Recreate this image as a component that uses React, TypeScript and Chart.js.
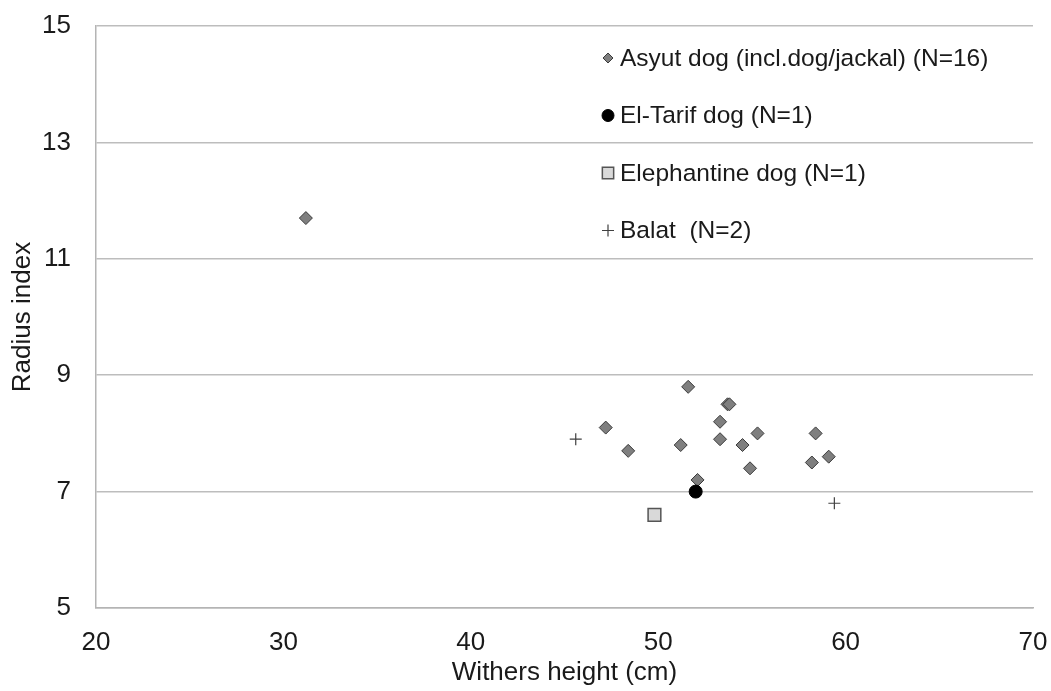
import React, { useEffect, useRef } from "react";
import { Chart, registerables } from "chart.js";
import { drawPoint } from "chart.js/helpers";

Chart.register(...registerables);

const asyutX = [31.2, 47.2, 48.4, 51.6, 51.2, 52.1, 53.3, 53.3, 53.7, 53.8, 54.5, 54.9, 55.3, 58.4, 58.2, 59.1];
const asyutY = [11.7, 8.1, 7.7, 8.8, 7.8, 7.2, 8.2, 7.9, 8.5, 8.5, 7.8, 7.4, 8.0, 8.0, 7.5, 7.6];
const elTarifX = [52.0];
const elTarifY = [7.0];
const elephantineX = [49.8];
const elephantineY = [6.6];
const balatX = [45.6, 59.4];
const balatY = [7.9, 6.8];

const seriesLabels = [
  "Asyut dog (incl.dog/jackal) (N=16)",
  "El-Tarif dog (N=1)",
  "Elephantine dog (N=1)",
  "Balat  (N=2)",
];

const xTitle = "Withers height (cm)";
const yTitle = "Radius index";

const FONT = "'Liberation Sans', Arial, sans-serif";

const toPoints = (xs: number[], ys: number[]) => xs.map((x, i) => ({ x, y: ys[i] }));

const legendPlugin = {
  id: "insideLegend",
  afterDraw(chart: any) {
    const { ctx, chartArea } = chart;
    const x0 = chartArea.left + 512;
    const y0 = chartArea.top + 32;
    const rowH = 57.5;
    ctx.save();
    ctx.font = `24.5px ${FONT}`;
    ctx.textBaseline = "middle";
    ctx.textAlign = "left";
    ctx.fillStyle = "#1a1a1a";
    chart.data.datasets.forEach((ds: any, i: number) => {
      const y = y0 + i * rowH;
      const lr = ds.legendRadius ?? ds.pointRadius;
      ctx.save();
      ctx.fillStyle = ds.backgroundColor;
      ctx.strokeStyle = ds.borderColor;
      ctx.lineWidth = ds.borderWidth;
      drawPoint(ctx, { pointStyle: ds.pointStyle, rotation: 0, borderWidth: ds.borderWidth, radius: lr }, x0, y);
      ctx.restore();
      ctx.fillText(ds.label, x0 + 12, y + 1);
    });
    ctx.restore();
  },
};

export default function App() {
  const ref = useRef<HTMLCanvasElement | null>(null);
  useEffect(() => {
    if (!ref.current) return;
    const chart = new Chart(ref.current, {
      type: "scatter",
      data: {
        datasets: [
          {
            label: seriesLabels[0],
            data: toPoints(asyutX, asyutY),
            pointStyle: "rectRot",
            pointRadius: 6.5,
            legendRadius: 5,
            backgroundColor: "#7f7f7f",
            borderColor: "#3a3a3a",
            borderWidth: 1,
            order: 1,
          } as any,
          {
            label: seriesLabels[1],
            data: toPoints(elTarifX, elTarifY),
            pointStyle: "circle",
            pointRadius: 6.5,
            legendRadius: 6,
            backgroundColor: "#000000",
            borderColor: "#000000",
            borderWidth: 1,
            order: 0,
          } as any,
          {
            label: seriesLabels[2],
            data: toPoints(elephantineX, elephantineY),
            pointStyle: "rect",
            pointRadius: 9,
            legendRadius: 8,
            backgroundColor: "#d9d9d9",
            borderColor: "#555555",
            borderWidth: 1.5,
            order: 0,
          } as any,
          {
            label: seriesLabels[3],
            data: toPoints(balatX, balatY),
            pointStyle: "cross",
            pointRadius: 6,
            legendRadius: 6,
            backgroundColor: "#404040",
            borderColor: "#404040",
            borderWidth: 1.2,
            order: 0,
          } as any,
        ],
      },
      options: {
        animation: false,
        responsive: true,
        maintainAspectRatio: false,
        layout: { padding: { left: 0, right: 18, top: 26, bottom: 0 } },
        plugins: {
          legend: { display: false },
          tooltip: { enabled: false },
        },
        scales: {
          x: {
            type: "linear",
            min: 20,
            max: 70,
            ticks: {
              stepSize: 10,
              padding: 19,
              color: "#1a1a1a",
              font: { family: FONT, size: 26 },
            },
            grid: { display: false, drawTicks: false },
            border: { display: true, color: "#b4b4b4", width: 1.5 },
            title: {
              display: true,
              text: xTitle,
              color: "#1a1a1a",
              font: { family: FONT, size: 26, lineHeight: 1.2 },
              padding: { top: 0, bottom: 3 },
            },
            afterFit: (scale: any) => {
              scale.height = 83;
              scale.paddingLeft = 0;
              scale.paddingRight = 0;
            },
          },
          y: {
            type: "linear",
            min: 5,
            max: 15,
            ticks: {
              stepSize: 2,
              padding: 25,
              color: "#1a1a1a",
              font: { family: FONT, size: 26 },
            },
            grid: { display: true, drawTicks: false, color: "#bdbdbd", lineWidth: 1.5 },
            border: { display: true, color: "#b4b4b4", width: 1.5 },
            title: {
              display: true,
              text: yTitle,
              color: "#1a1a1a",
              font: { family: FONT, size: 26, lineHeight: 1.2 },
              padding: { top: 7, bottom: 0 },
            },
            afterFit: (scale: any) => {
              scale.width = 96;
              scale.paddingTop = 0;
              scale.paddingBottom = 0;
            },
          },
        },
      },
      plugins: [legendPlugin],
    });
    return () => chart.destroy();
  }, []);
  return (
    <div style={{ position: "fixed", left: 0, top: 0, width: 1051, height: 691, background: "#ffffff" }}>
      <canvas ref={ref} />
    </div>
  );
}
